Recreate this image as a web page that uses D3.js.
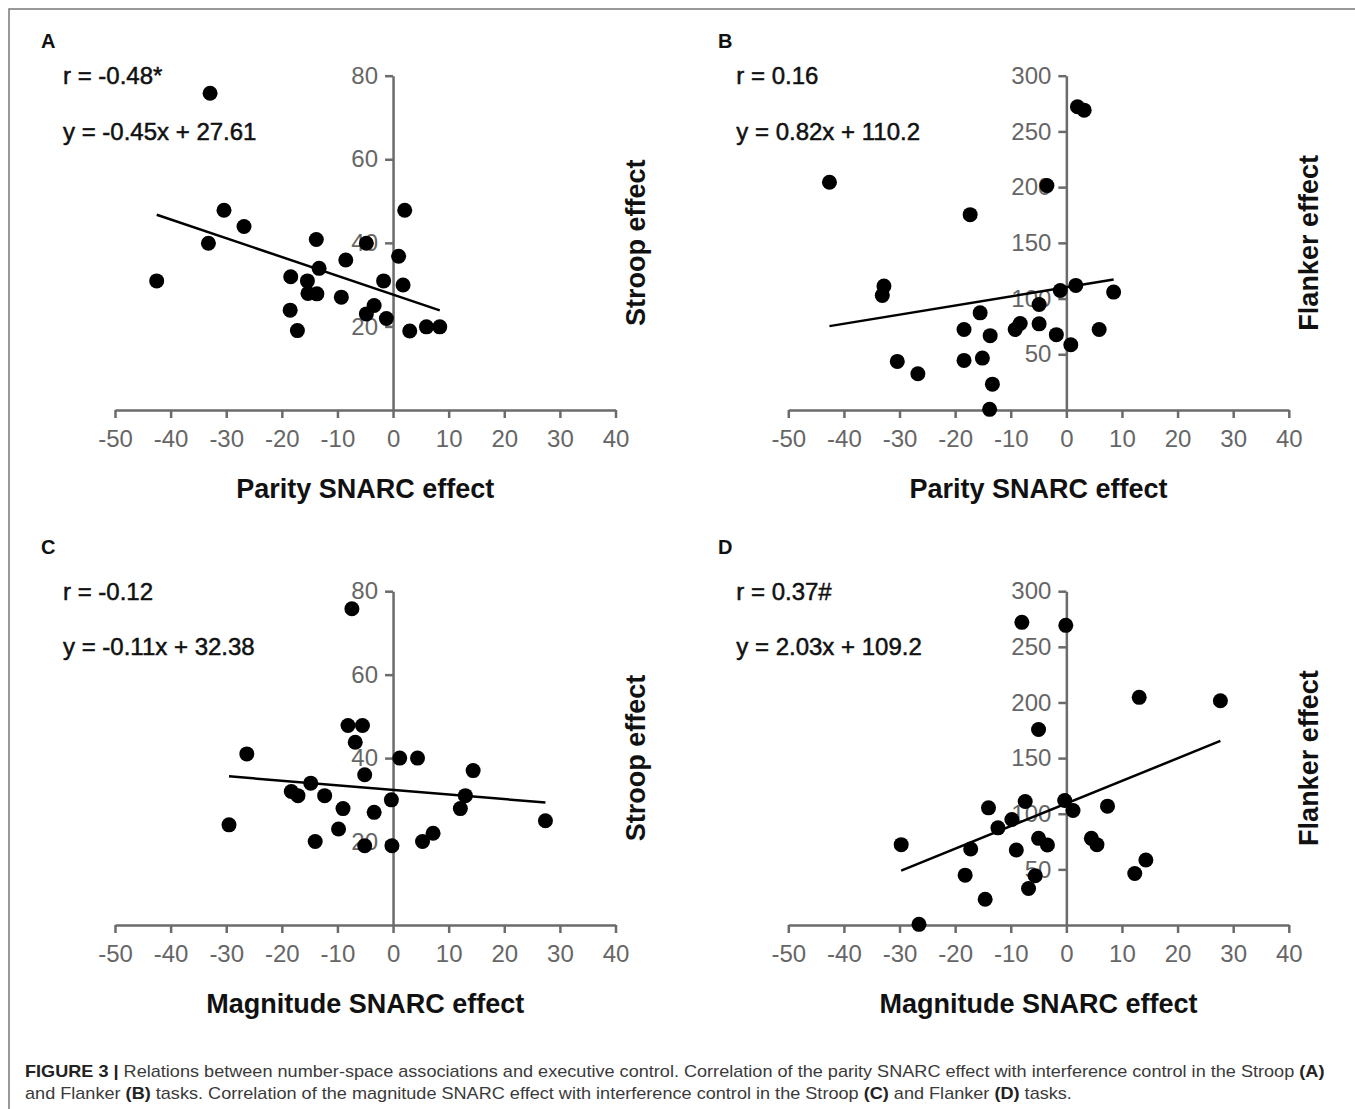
<!DOCTYPE html>
<html>
<head>
<meta charset="utf-8">
<script src="https://cdn.jsdelivr.net/npm/d3@7"></script>
<style>
  html, body { margin: 0; padding: 0; background: #fff; }
  svg { display: block; font-family: "Liberation Sans", Arial, sans-serif; }
</style>
</head>
<body>
<div id="chart"></div>
<script>
// tick values
var parityTicks = [-50, -40, -30, -20, -10, 0, 10, 20, 30, 40];
var stroopTicks = [20, 40, 60, 80];
var flankerTicks = [50, 100, 150, 200, 250, 300];

// A: parity SNARC vs Stroop
var parityA = [-32.9, -42.5, -33.2, -30.4, -26.8, -18.4, -18.5, -17.2, -15.4, -15.3, -13.8, -13.7, -13.3, -9.3, -8.5, -4.8, -4.8, -3.4, -1.7, -1.2, 1.0, 2.1, 1.8, 3.0, 6.0, 8.4];
var stroopA = [75.8, 30.9, 39.9, 47.8, 43.9, 31.9, 23.9, 19.0, 30.9, 27.9, 40.8, 27.8, 33.9, 27.0, 35.9, 39.9, 23.0, 25.0, 30.9, 21.9, 36.8, 47.8, 29.9, 18.9, 19.9, 19.9];

// B: parity SNARC vs Flanker
var parityB = [-42.6, -32.8, -33.1, -30.4, -26.7, -18.4, -18.4, -17.3, -15.5, -15.1, -13.7, -13.3, -13.8, -9.2, -8.3, -4.9, -4.9, -3.5, -1.8, -1.1, 0.8, 1.7, 2.0, 3.2, 5.9, 8.5];
var flankerB = [204.4, 111.2, 102.8, 43.6, 32.5, 72.2, 44.5, 175.3, 87.2, 46.6, 66.7, 23.2, 0.6, 72.2, 77.6, 94.7, 77.3, 201.4, 67.6, 107.3, 58.6, 111.8, 272.1, 269.1, 72.2, 105.8];

// C: magnitude SNARC vs Stroop
var magnitudeC = [-7.4, -26.3, -29.5, -18.3, -17.1, -14.8, -14.0, -12.3, -9.8, -9.0, -8.1, -6.8, -5.5, -5.1, -5.1, -3.4, -0.3, -0.2, 1.2, 4.4, 5.3, 7.2, 12.1, 13.0, 14.4, 27.4];
var stroopC = [75.8, 41.0, 24.0, 32.0, 31.0, 34.0, 20.0, 31.0, 23.0, 27.9, 47.8, 43.8, 47.8, 36.0, 19.0, 27.0, 30.0, 19.0, 40.0, 40.0, 20.0, 22.0, 27.9, 31.0, 37.0, 25.0];

// D: magnitude SNARC vs Flanker
var magnitudeD = [-8.0, -0.1, 13.1, 27.7, -5.0, -29.7, -26.5, -18.2, -17.2, -14.6, -14.0, -12.3, -9.8, -9.0, -7.4, -6.8, -5.6, -5.0, -3.4, -0.3, 1.2, 4.5, 5.5, 7.4, 12.3, 14.3];
var flankerD = [272.0, 269.3, 204.6, 201.6, 175.7, 72.2, 0.6, 44.8, 68.3, 23.2, 105.3, 87.3, 94.8, 67.4, 111.0, 32.8, 44.2, 77.9, 71.9, 111.9, 102.9, 77.9, 72.2, 106.8, 46.3, 58.4];

// fitted lines (slope, intercept) and stats text, in order A B C D
var panelLetters = ["A", "B", "C", "D"];
var fitSlopes = [-0.45, 0.82, -0.11, 2.03];
var fitIntercepts = [27.61, 110.2, 32.38, 109.2];
var rLabels = ["r = -0.48*", "r = 0.16", "r = -0.12", "r = 0.37#"];
var eqLabels = ["y = -0.45x + 27.61", "y = 0.82x + 110.2", "y = -0.11x + 32.38", "y = 2.03x + 109.2"];
var xTitles = ["Parity SNARC effect", "Parity SNARC effect", "Magnitude SNARC effect", "Magnitude SNARC effect"];
var yTitles = ["Stroop effect", "Flanker effect", "Stroop effect", "Flanker effect"];

var W = 1355, H = 1109;
var axisColor = "#6b6b6b";

var svg = d3.select("#chart").append("svg")
    .attr("width", W)
    .attr("height", H);

svg.append("rect").attr("width", W).attr("height", H).attr("fill", "#fff");

// frame: top and left only
svg.append("path")
    .attr("d", "M9," + H + "V9H" + W)
    .attr("fill", "none")
    .attr("stroke", "#777")
    .attr("stroke-width", 1.5);

var panels = [
    {xs: parityA, ys: stroopA, yMax: 80, yTicks: stroopTicks, left: 115, top: 75.7, bottom: 410, lx: 41, ly: 48},
    {xs: parityB, ys: flankerB, yMax: 300, yTicks: flankerTicks, left: 788.3, top: 75.7, bottom: 410, lx: 718, ly: 48},
    {xs: magnitudeC, ys: stroopC, yMax: 80, yTicks: stroopTicks, left: 115, top: 591.2, bottom: 925, lx: 41, ly: 554},
    {xs: magnitudeD, ys: flankerD, yMax: 300, yTicks: flankerTicks, left: 788.3, top: 591.2, bottom: 925, lx: 718, ly: 554}
];

// plain hyphen for negatives, as in the figure
var plain = function(d) { return String(d); };

panels.forEach(function(p, i) {
    var x = d3.scaleLinear().domain([-50, 40]).range([p.left, p.left + 500.5]);
    var y = d3.scaleLinear().domain([0, p.yMax]).range([p.bottom, p.top]);
    var g = svg.append("g");

    g.append("text")
        .attr("x", p.lx).attr("y", p.ly)
        .attr("font-size", 20).attr("font-weight", "bold").attr("fill", "#111")
        .text(panelLetters[i]);

    // x axis on y = 0
    var gx = g.append("g")
        .attr("transform", "translate(0," + y(0) + ")")
        .call(d3.axisBottom(x).tickValues(parityTicks).tickFormat(plain)
            .tickSizeInner(8).tickSizeOuter(0).tickPadding(12));

    // y axis on x = 0
    var gy = g.append("g")
        .attr("transform", "translate(" + x(0) + ",0)")
        .call(d3.axisLeft(y).tickValues(p.yTicks).tickFormat(plain)
            .tickSizeInner(8).tickSizeOuter(0).tickPadding(7));

    [gx, gy].forEach(function(a) {
        a.attr("font-family", null).attr("font-size", null);
        a.select(".domain").attr("stroke", axisColor).attr("stroke-width", 2.5);
        a.selectAll(".tick line").attr("stroke", axisColor).attr("stroke-width", 2.5);
        a.selectAll(".tick text").attr("fill", "#666").attr("font-size", 24);
    });

    // fitted line across the data range
    var ext = d3.extent(p.xs);
    var fit = ext.map(function(v) { return [v, fitSlopes[i] * v + fitIntercepts[i]]; });
    g.append("path")
        .attr("d", d3.line().x(function(d) { return x(d[0]); }).y(function(d) { return y(d[1]); })(fit))
        .attr("stroke", "#000").attr("stroke-width", 2.5).attr("fill", "none");

    g.selectAll("circle.pt")
        .data(p.xs.map(function(v, k) { return [v, p.ys[k]]; }))
        .enter().append("circle")
        .attr("class", "pt")
        .attr("cx", function(d) { return x(d[0]); })
        .attr("cy", function(d) { return y(d[1]); })
        .attr("r", 7.5)
        .attr("fill", "#000");

    g.append("text")
        .attr("x", p.left - 52).attr("y", p.top + 8.5)
        .attr("font-size", 24).attr("fill", "#111")
        .attr("stroke", "#111").attr("stroke-width", 0.5)
        .text(rLabels[i]);
    g.append("text")
        .attr("x", p.left - 52).attr("y", p.top + 64)
        .attr("font-size", 24).attr("fill", "#111")
        .attr("stroke", "#111").attr("stroke-width", 0.5)
        .text(eqLabels[i]);

    g.append("text")
        .attr("x", p.left + 250.25).attr("y", p.bottom + 88)
        .attr("text-anchor", "middle")
        .attr("font-size", 27).attr("font-weight", "bold").attr("fill", "#111")
        .text(xTitles[i]);

    var ymid = (p.top + p.bottom) / 2;
    g.append("text")
        .attr("transform", "translate(" + (p.left + 530) + "," + ymid + ") rotate(-90)")
        .attr("text-anchor", "middle")
        .attr("font-size", 27).attr("font-weight", "bold").attr("fill", "#111")
        .text(yTitles[i]);
});

// caption
var cap = svg.append("g").attr("font-size", 16).attr("fill", "#3a3a3a");
var line1 = cap.append("text").attr("y", 1077);
line1.append("tspan").attr("font-weight", "bold").attr("fill", "#222").text("FIGURE 3 | ");
line1.append("tspan").text("Relations between number-space associations and executive control. Correlation of the parity SNARC effect with interference control in the Stroop ");
line1.append("tspan").attr("font-weight", "bold").attr("fill", "#222").text("(A)");

var line2 = cap.append("text").attr("y", 1099);
line2.append("tspan").text("and Flanker ");
line2.append("tspan").attr("font-weight", "bold").attr("fill", "#222").text("(B)");
line2.append("tspan").text(" tasks. Correlation of the magnitude SNARC effect with interference control in the Stroop ");
line2.append("tspan").attr("font-weight", "bold").attr("fill", "#222").text("(C)");
line2.append("tspan").text(" and Flanker ");
line2.append("tspan").attr("font-weight", "bold").attr("fill", "#222").text("(D)");
line2.append("tspan").text(" tasks.");

var w1 = line1.node().getComputedTextLength();
var k = 1300 / w1;
cap.attr("transform", "translate(25,0) scale(" + k + ",1)");
</script>
</body>
</html>
